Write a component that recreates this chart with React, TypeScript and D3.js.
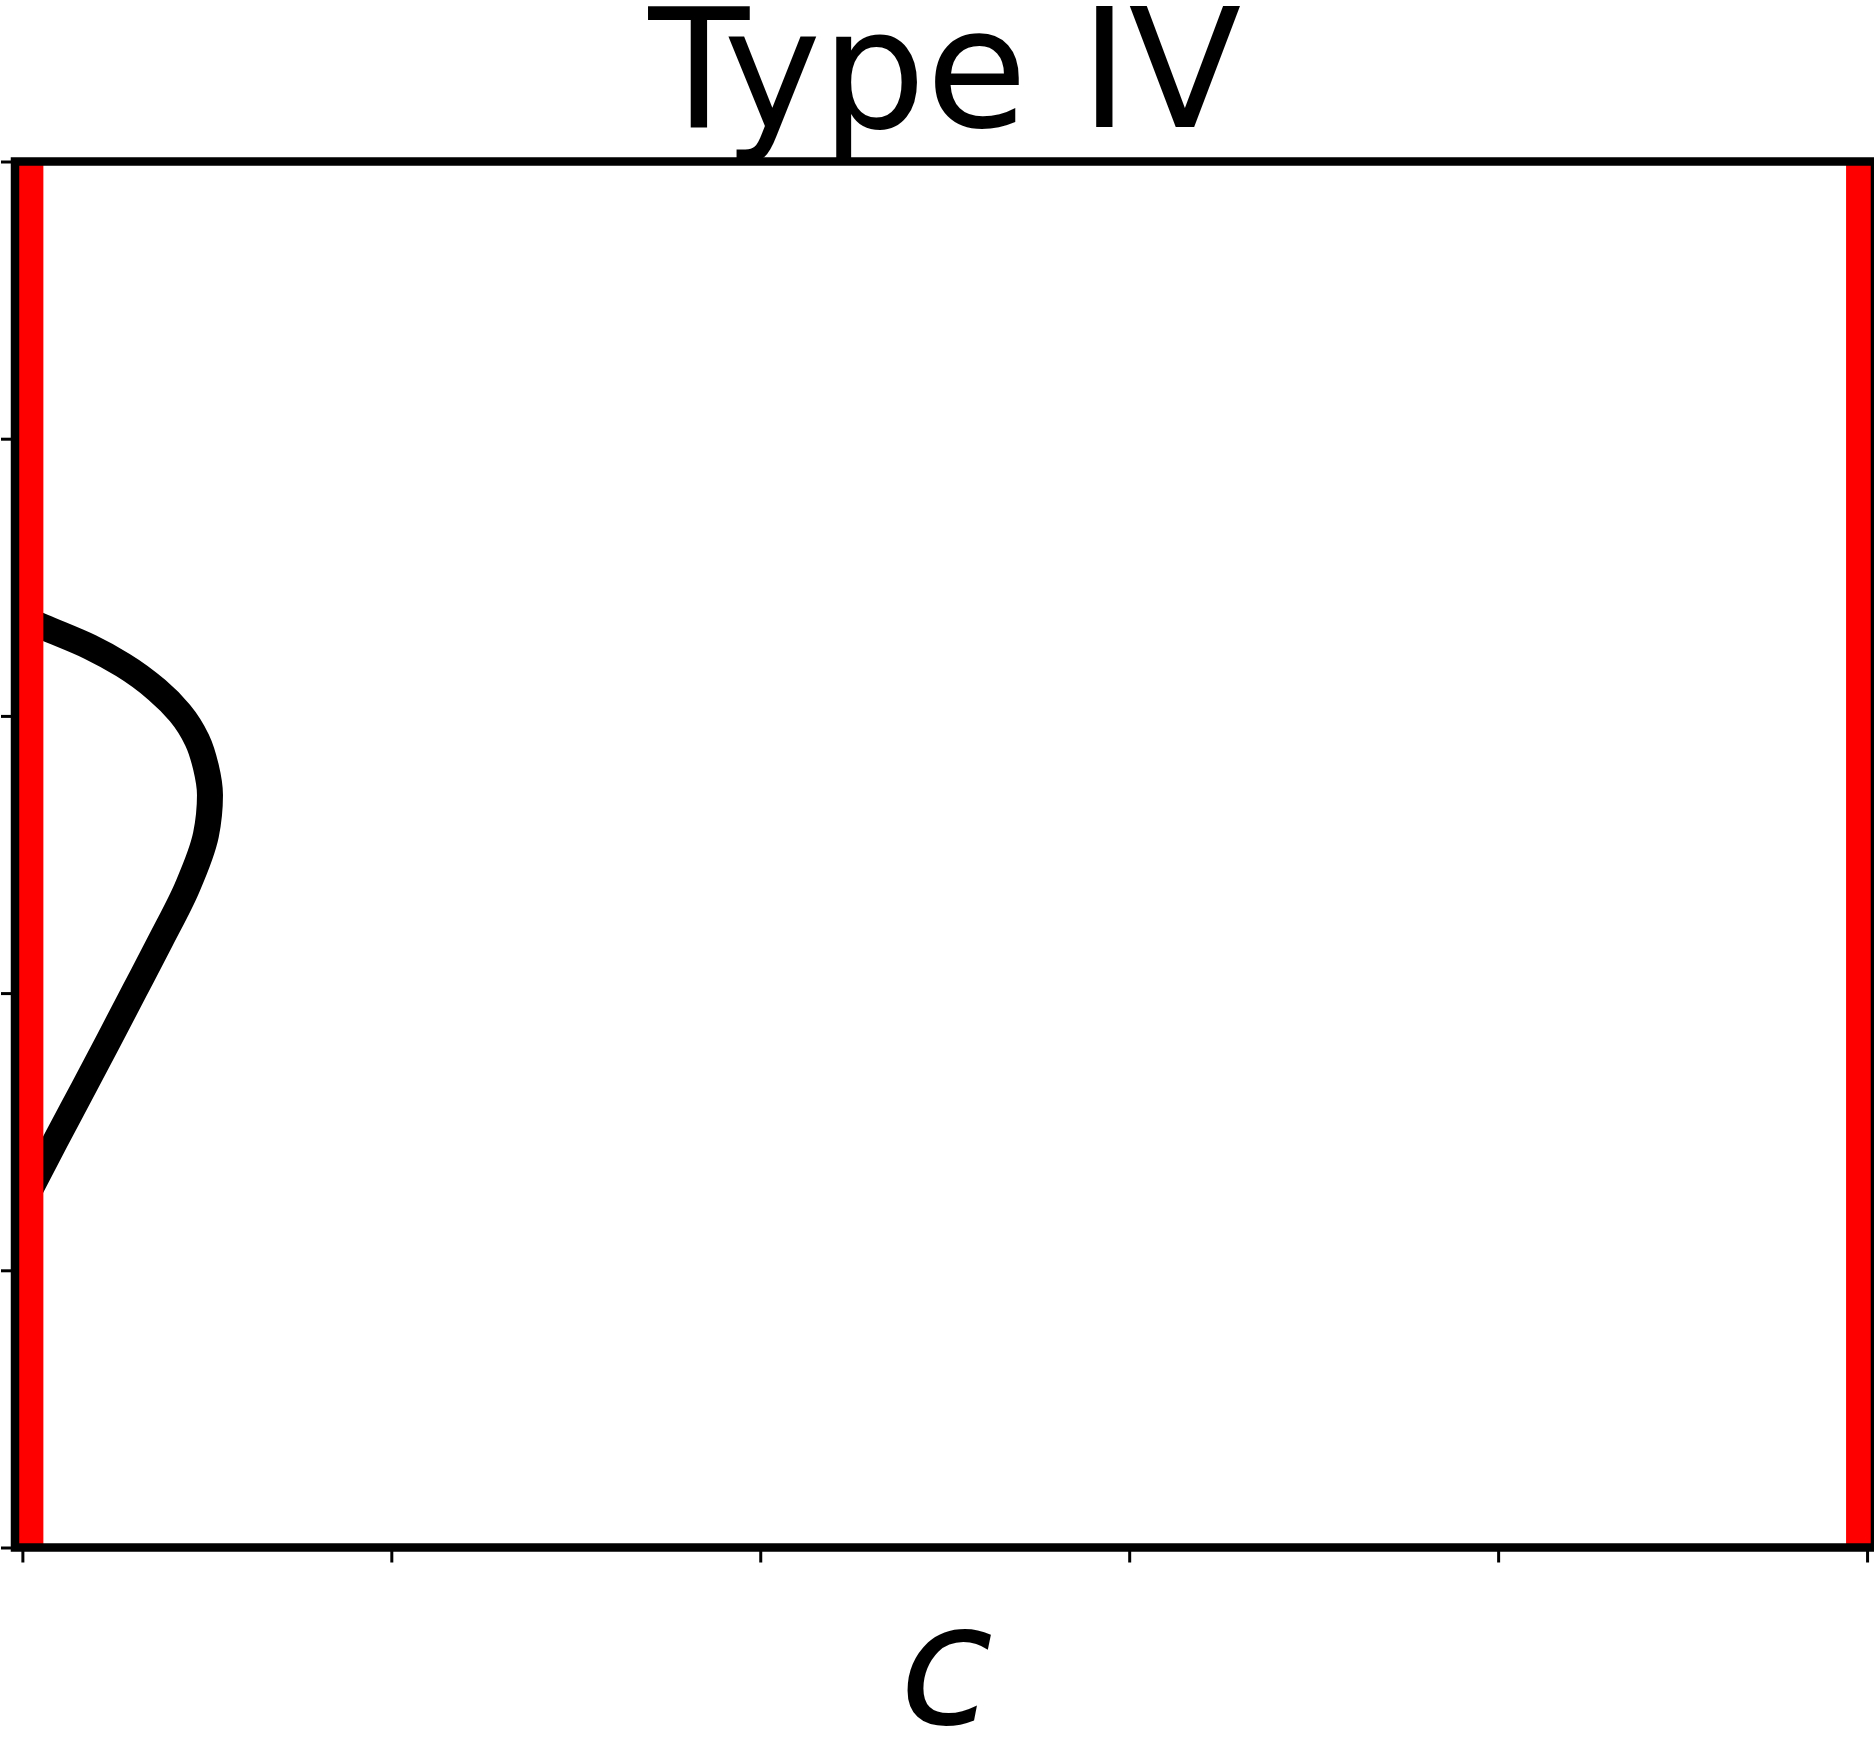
import React, { useEffect, useRef } from 'react';
import * as d3 from 'd3';

// tick positions (no labels shown)
const xTicks = [0, 0.2, 0.4, 0.6, 0.8, 1];
const yTicks = [0, 0.2, 0.4, 0.6, 0.8, 1];
// red boundary lines
const boundaryC = [0, 1];
// the black curve (c as a function of y)
const curveC = [0, 0.0112, 0.0367, 0.0545, 0.073, 0.0854, 0.0947, 0.0995, 0.1017, 0.0995, 0.0892, 0.0751, 0.061, 0.0469, 0.0326, 0.0182, 0.0041];
const curveY = [0.6707, 0.6642, 0.6497, 0.6367, 0.6187, 0.6021, 0.5826, 0.5631, 0.5429, 0.5141, 0.4758, 0.4383, 0.4022, 0.3662, 0.3301, 0.294, 0.2579];

const titleText = 'Type IV';
const xLabel = 'c';

const width = 1874;
const height = 1757;
const margin = { top: 161.5, right: width - 1875, bottom: height - 1547.5, left: 15 };

export default function App() {
  const ref = useRef<SVGSVGElement>(null);

  useEffect(() => {
    const svg = d3.select(ref.current);
    svg.selectAll('*').remove();

    const x = d3.scaleLinear()
      .domain([-0.004, 1.0043])
      .range([margin.left, width - margin.right]);
    const y = d3.scaleLinear()
      .domain([0, 1])
      .range([height - margin.bottom, margin.top]);

    svg.append('clipPath')
      .attr('id', 'plotclip')
      .append('rect')
      .attr('x', margin.left)
      .attr('y', margin.top)
      .attr('width', width - margin.right - margin.left)
      .attr('height', height - margin.bottom - margin.top);

    const plot = svg.append('g').attr('clip-path', 'url(#plotclip)');

    // sort by y so the monotone spline sees c(y) as a function
    const pts = curveC
      .map((c, i) => [c, curveY[i]] as [number, number])
      .sort((a, b) => a[1] - b[1]);
    const line = d3.line<[number, number]>()
      .curve(d3.curveMonotoneY)
      .x(d => x(d[0]))
      .y(d => y(d[1]));

    plot.append('path')
      .datum(pts)
      .attr('fill', 'none')
      .attr('stroke', '#000')
      .attr('stroke-width', 26)
      .attr('stroke-linejoin', 'round')
      .attr('d', line);

    plot.selectAll('line.bound')
      .data(boundaryC)
      .join('line')
      .attr('class', 'bound')
      .attr('x1', d => x(d))
      .attr('x2', d => x(d))
      .attr('y1', y(0))
      .attr('y2', y(1))
      .attr('stroke', '#ff0000')
      .attr('stroke-width', 42);

    // ticks
    const xAxis = svg.append('g')
      .attr('transform', `translate(0,${y(0)})`)
      .call(d3.axisBottom(x).tickValues(xTicks).tickSize(15).tickFormat(() => ''));
    xAxis.select('.domain').remove();
    xAxis.selectAll('.tick line').attr('stroke', '#000').attr('stroke-width', 3);

    const yAxis = svg.append('g')
      .attr('transform', `translate(${x.range()[0]},0)`)
      .call(d3.axisLeft(y).tickValues(yTicks).tickSize(14).tickFormat(() => ''));
    yAxis.select('.domain').remove();
    yAxis.selectAll('.tick line').attr('stroke', '#000').attr('stroke-width', 3);

    // spines
    svg.append('rect')
      .attr('x', margin.left)
      .attr('y', margin.top)
      .attr('width', width - margin.right - margin.left)
      .attr('height', height - margin.bottom - margin.top)
      .attr('fill', 'none')
      .attr('stroke', '#000')
      .attr('stroke-width', 8.5);

    svg.append('text')
      .attr('x', (margin.left + width - margin.right) / 2)
      .attr('y', 127)
      .attr('text-anchor', 'middle')
      .attr('font-family', 'DejaVu Sans')
      .attr('font-size', 165)
      .text(titleText);

    svg.append('text')
      .attr('x', 946.5)
      .attr('y', 1724)
      .attr('text-anchor', 'middle')
      .attr('font-family', 'DejaVu Sans')
      .attr('font-style', 'italic')
      .attr('font-size', 170)
      .text(xLabel);
  }, []);

  return (
    <svg
      ref={ref}
      width={width}
      height={height}
      style={{ position: 'absolute', left: 0, top: 0, background: '#fff' }}
    />
  );
}
